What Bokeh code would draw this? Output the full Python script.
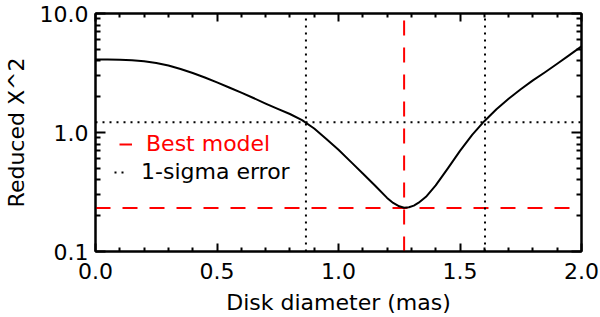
from bokeh.plotting import figure
from bokeh.models import (FixedTicker, PrintfTickFormatter, LinearAxis, LogAxis,
                          Legend, LegendItem, Range1d, CustomJSTickFormatter)
from bokeh.embed import file_html
from bokeh.resources import INLINE

# ---- data ----
diameter = [0.00, 0.05, 0.10, 0.15, 0.20, 0.25, 0.30, 0.35, 0.40, 0.45, 0.50,
            0.55, 0.60, 0.65, 0.70, 0.75, 0.80, 0.85, 0.90, 0.95, 1.00,
            1.05, 1.10, 1.15, 1.20, 1.225, 1.25, 1.27, 1.29, 1.31, 1.33,
            1.36, 1.40, 1.45, 1.50, 1.55, 1.60, 1.65, 1.70, 1.75,
            1.80, 1.85, 1.90, 1.95, 2.00]
reduced_chi2 = [4.11, 4.105, 4.09, 4.05, 3.97, 3.84, 3.66, 3.42, 3.16, 2.90, 2.64,
                2.39, 2.16, 1.95, 1.75, 1.58, 1.43, 1.27, 1.08, 0.88, 0.716,
                0.569, 0.452, 0.359, 0.282, 0.256, 0.240, 0.233, 0.2355, 0.243, 0.257,
                0.288, 0.359, 0.50, 0.70, 0.955, 1.245, 1.567, 1.92, 2.31,
                2.74, 3.21, 3.78, 4.47, 5.30]

best_diameter = 1.27
best_chi2 = 0.232
sigma_level = 1.22
sigma_low = 0.866
sigma_high = 1.603

x_limits = [0.0, 2.0]
y_limits = [0.1, 10.0]
x_ticks = [0.0, 0.5, 1.0, 1.5, 2.0]
x_minor = [0.1, 0.2, 0.3, 0.4, 0.6, 0.7, 0.8, 0.9, 1.1, 1.2, 1.3, 1.4,
           1.6, 1.7, 1.8, 1.9]
y_ticks = [0.1, 1.0, 10.0]
y_minor = [0.2, 0.3, 0.4, 0.5, 0.6, 0.7, 0.8, 0.9, 2, 3, 4, 5, 6, 7, 8, 9]

x_title = "Disk diameter (mas)"
y_title = "Reduced X^2"
legend_best = "Best model"
legend_sigma = "1-sigma error"

FONT = "DejaVu Sans"
FS = "22px"
RED = "#ff0000"

p = figure(width=600, height=317, output_backend="svg", toolbar_location=None,
           x_range=Range1d(*x_limits), y_range=Range1d(*y_limits),
           y_axis_type="log", min_border_top=13, min_border_right=19,
           min_border_left=0, min_border_bottom=0)
p.background_fill_color = "white"
p.border_fill_color = "white"
p.outline_line_color = "black"
p.outline_line_width = 2
p.xgrid.visible = False
p.ygrid.visible = False

xt = FixedTicker(ticks=x_ticks, minor_ticks=x_minor)
yt = FixedTicker(ticks=y_ticks, minor_ticks=y_minor)
fmt = PrintfTickFormatter(format="%.1f")
blank = CustomJSTickFormatter(code="return ''")


def style_axis(ax, major_in, minor_in):
    ax.axis_line_color = "black"
    ax.axis_line_width = 2
    ax.major_tick_line_color = "black"
    ax.minor_tick_line_color = "black"
    ax.major_tick_line_width = 2
    ax.minor_tick_line_width = 2
    ax.major_tick_in = major_in
    ax.major_tick_out = 0
    ax.minor_tick_in = minor_in
    ax.minor_tick_out = 0
    ax.major_label_text_font = FONT
    ax.axis_label_text_font = FONT
    ax.axis_label_text_font_style = "normal"
    ax.major_label_text_color = "black"
    ax.axis_label_text_color = "black"
    ax.major_label_text_font_size = FS
    ax.axis_label_text_font_size = FS


xa = p.xaxis[0]
xa.ticker = xt
xa.formatter = fmt
xa.axis_label = x_title
style_axis(xa, 8, 4)
xa.major_label_standoff = 11
xa.axis_label_standoff = 8

ya = p.yaxis[0]
ya.ticker = yt
ya.formatter = fmt
ya.axis_label = y_title
style_axis(ya, 10, 5)
ya.major_label_standoff = 7
ya.axis_label_standoff = 8

top = LinearAxis(ticker=xt, formatter=blank)
style_axis(top, 8, 4)
top.major_label_text_font_size = "1px"
top.major_label_standoff = 0
p.add_layout(top, "above")

right = LogAxis(ticker=yt, formatter=blank)
style_axis(right, 10, 5)
right.major_label_text_font_size = "1px"
right.major_label_standoff = 0
p.add_layout(right, "right")

# reference lines
r_best_h = p.line(x=x_limits, y=[best_chi2, best_chi2], line_color=RED,
                  line_width=2, line_dash="15 12")
r_best_v = p.line(x=[best_diameter, best_diameter], y=y_limits, line_color=RED,
                  line_width=2, line_dash="15 12")
r_sig_h = p.line(x=x_limits, y=[sigma_level, sigma_level], line_color="black",
                 line_width=2, line_dash="2 5")
r_sig_lo = p.line(x=[sigma_low, sigma_low], y=y_limits, line_color="black",
                  line_width=2, line_dash="2 5")
r_sig_hi = p.line(x=[sigma_high, sigma_high], y=y_limits, line_color="black",
                  line_width=2, line_dash="2 5")

# chi2 curve
p.line(x=diameter, y=reduced_chi2, line_color="black", line_width=2,
       line_join="round")


def make_legend(label, renderer, color, loc):
    lg = Legend(items=[LegendItem(label=label, renderers=[renderer])],
                location=loc, orientation="vertical")
    lg.background_fill_alpha = 0
    lg.border_line_alpha = 0
    lg.padding = 0
    lg.margin = 0
    lg.spacing = 0
    lg.glyph_width = 13
    lg.glyph_height = 20
    lg.label_height = 20
    lg.label_standoff = 14
    lg.label_text_font = FONT
    lg.label_text_font_size = FS
    lg.label_text_color = color
    lg.label_text_baseline = "middle"
    return lg


p.add_layout(make_legend(legend_best, r_best_v, RED, (24, 95)))
p.add_layout(make_legend(legend_sigma, r_sig_lo, "black", (19, 67)))

open("out.html", "w").write(file_html(p, INLINE))
